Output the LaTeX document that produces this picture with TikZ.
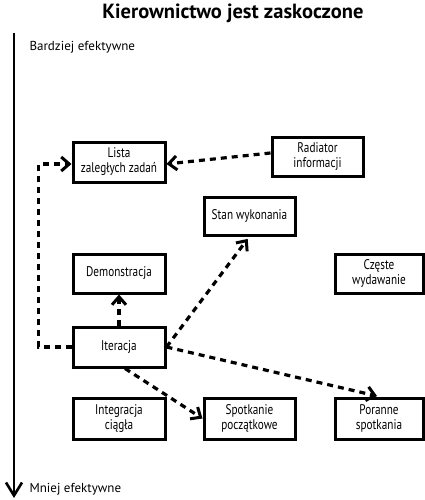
\documentclass[tikz,border=0pt]{standalone}
\usepackage{fontspec}
\setmainfont{PT Sans}
\newfontfamily\boxfont[FakeStretch=0.8]{PT Sans}
\usetikzlibrary{arrows.meta}
\tikzset{
  box/.style={draw, line width=3pt, inner sep=0pt, align=center,
    font=\boxfont\fontsize{14}{15}\selectfont},
  conn/.style={line width=3.2pt, dash pattern=on 6pt off 5pt,
    -{Straight Barb[length=8pt,width=14pt,line width=3pt]}},
  side/.style={anchor=west, font=\fontsize{13}{15}\selectfont}
}
\begin{document}
\begin{tikzpicture}[x=1pt,y=-1pt]
\useasboundingbox (0,0) rectangle (425,500);
\node[font=\bfseries\fontsize{20.5}{24}\selectfont] (title) at (233,13) {Kierownictwo jest zaskoczone};
\coordinate (axtop) at (14,33);
\coordinate (axbot) at (14,498);
\draw[line width=2.6pt, -{Straight Barb[length=13pt,width=16pt,line width=2.6pt]}] (axtop) -- (axbot);
\node[side] (more) at (26,47) {Bardziej efektywne};
\node[side] (less) at (26,489) {Mniej efektywne};

\node[box, minimum width=92pt, minimum height=40pt] (lista) at (119,162) {Lista\\zaległych zadań};
\node[box, minimum width=91pt, minimum height=39pt] (rad) at (317.5,156.5) {Radiator\\informacji};
\node[box, minimum width=91pt, minimum height=38pt] (stan) at (249.5,216) {Stan wykonania};
\node[box, minimum width=92pt, minimum height=39pt] (demo) at (119,273.5) {Demonstracja};
\node[box, minimum width=88pt, minimum height=39pt] (czeste) at (379,273.5) {Częste\\wydawanie};
\node[box, minimum width=92pt, minimum height=40pt] (iter) at (119,347) {Iteracja};
\node[box, minimum width=92pt, minimum height=41pt] (integ) at (119,418.5) {Integracja\\ciągła};
\node[box, minimum width=91pt, minimum height=41pt] (spot) at (249.5,418.5) {Spotkanie\\początkowe};
\node[box, minimum width=88pt, minimum height=41pt] (poranne) at (379,418.5) {Poranne\\spotkania};

\draw[conn] ([yshift=3.5pt]rad.west) -- ([yshift=-2pt]lista.east);
\draw[conn] (iter.west) -- ++(-33,0) |- ([yshift=-2pt]lista.west);
\draw[conn] (iter.north) -- (demo.south);
\draw[conn, shorten >=3pt] (iter.east) -- (stan.south);
\draw[conn] ([xshift=6pt]iter.south) -- (spot.west);
\draw[conn, shorten >=2pt] (iter.east) -- (poranne.north);
\end{tikzpicture}
\end{document}
